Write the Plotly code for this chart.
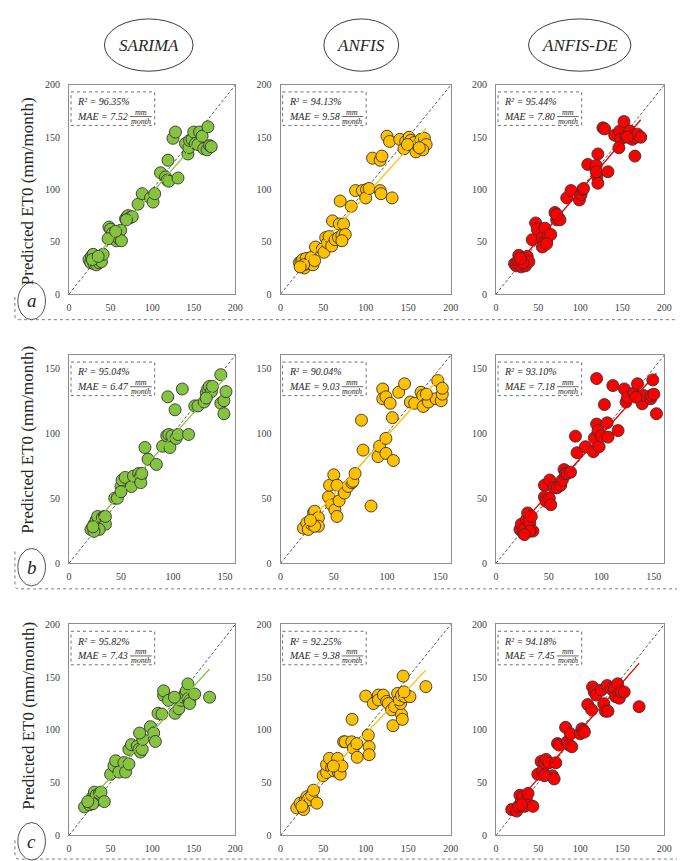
import numpy as np
import plotly.graph_objects as go

W, H = 685, 861
FONT = "Liberation Serif"

models = ["SARIMA", "ANFIS", "ANFIS-DE"]
row_labels = ["a", "b", "c"]
r2_text = [["96.35%", "94.13%", "95.44%"],
           ["95.04%", "90.04%", "93.10%"],
           ["95.82%", "92.25%", "94.18%"]]
mae_text = [["7.52", "9.58", "7.80"],
            ["6.47", "9.03", "7.18"],
            ["7.43", "9.38", "7.45"]]
axis_max = [200, 160, 200]
tick_vals = [[0, 50, 100, 150, 200], [0, 50, 100, 150], [0, 50, 100, 150, 200]]
y_title = "Predicted ET0 (mm/month)"

# ---------------- row a ----------------
a_sarima_obs = [24, 26, 27, 29, 30, 32, 33, 34, 36, 37, 39, 41, 28, 35,
                48, 50, 52, 54, 55, 57, 58, 60, 62, 63, 47, 56,
                68, 70, 71, 73, 76, 69, 83, 88, 98, 101, 103,
                110, 116, 118, 120, 119, 131, 125, 128,
                140, 143, 144, 145, 148, 150, 152, 155, 157, 160, 162, 166, 167, 169, 171]
a_sarima_pred = [33, 30, 36, 38, 29, 31, 28, 34, 30, 33, 31, 38, 33, 36,
                 64, 62, 58, 53, 55, 51, 57, 53, 61, 51, 53, 60,
                 72, 74, 75, 73, 74, 71, 86, 96, 92, 88, 96,
                 116, 112, 109, 108, 128, 111, 149, 155,
                 144, 134, 140, 147, 148, 155, 144, 143, 155, 151, 139, 138, 160, 142, 141]

a_anfis_obs = [22, 24, 25, 26, 28, 30, 32, 34, 36, 38, 40, 27, 23,
               41, 49, 51, 53, 55, 57, 60, 61, 64, 68, 69, 72, 74, 76, 72,
               70, 83, 88, 96, 101, 100, 104, 108, 117, 119, 117, 118, 131, 125, 128,
               140, 145, 147, 151, 153, 157, 159, 161, 163, 165, 169, 171, 167, 163, 149]
a_anfis_pred = [30, 31, 27, 33, 25, 34, 29, 30, 35, 28, 32, 28, 26,
                45, 43, 40, 54, 49, 55, 46, 70, 52, 54, 67, 56, 67, 57, 51,
                89, 84, 99, 99, 100, 92, 101, 130, 128, 132, 99, 96, 92, 151, 146,
                148, 139, 146, 150, 147, 145, 136, 142, 143, 148, 149, 143, 138, 140, 143]

a_de_obs = [22, 24, 26, 28, 30, 31, 33, 35, 37, 39, 27, 32, 29,
            43, 47, 49, 55, 55, 58, 60, 62, 65, 60,
            70, 72, 74, 76, 72, 84, 89, 99, 101, 103, 104,
            109, 119, 120, 121, 119, 133, 121, 127, 129,
            141, 147, 148, 152, 154, 159, 162, 164, 166, 168, 172, 165, 146, 156]
a_de_pred = [29, 27, 31, 28, 26, 33, 29, 27, 36, 31, 37, 30, 34,
             52, 68, 62, 54, 45, 63, 51, 56, 57, 48,
             78, 71, 73, 71, 76, 92, 99, 90, 95, 100, 101,
             124, 123, 113, 106, 117, 117, 134, 159, 158,
             152, 156, 148, 165, 151, 156, 148, 152, 150, 153, 150, 132, 140, 150]

# ---------------- row b ----------------
b_sarima_obs = [21, 24, 26, 27.5, 28.5, 31, 32, 34, 35, 29, 24, 23, 35,
                44, 46.5, 50, 51, 54, 50, 60, 62, 67, 69, 69, 70,
                73, 76, 84, 90, 94, 96, 97, 99, 103, 105, 115, 95, 109, 102,
                121, 124, 130, 132, 133.5, 135, 137, 138, 146, 146, 149, 149, 151, 132]
b_sarima_pred = [26, 30, 33, 36, 28, 31, 35, 36, 30, 26, 24.5, 28, 36,
                 50, 50, 59, 64, 66, 55, 59, 67, 69, 67, 62, 69,
                 89, 80, 76, 90, 98, 99, 89, 98, 96, 99, 99, 128, 134, 118,
                 121, 121, 124, 131, 134, 136, 132, 136, 145, 123, 115, 125, 132, 127]

b_anfis_obs = [21.5, 24.6, 26, 29, 31, 32, 34, 35.5, 35.5, 32, 28,
               45, 46, 48, 50, 51, 53, 53, 55, 60, 63.5, 67, 68, 70,
               85, 76, 77.5, 91.6, 93, 99, 99, 106,
               96, 96, 99, 103, 105, 111, 116.5,
               122, 126, 132, 133.6, 134, 138, 139, 146, 147.7, 151, 152, 152, 137]
b_anfis_pred = [27, 31, 26, 30, 39, 40, 34, 35, 28.5, 28.5, 33,
                51, 60, 45, 68, 41, 60, 36, 48, 54, 59, 62, 63, 69,
                44, 110, 87, 82, 90, 84.5, 96, 79,
                134, 126.5, 128, 123, 112, 131.5, 138,
                124, 123, 131.5, 129, 120.6, 128, 124, 126.5, 140.5, 125, 130, 134.6, 130]

b_de_obs = [22.7, 24, 26, 27, 29, 30, 32, 33.5, 35, 32, 27,
            46, 46, 47.5, 50.6, 51, 52, 55, 58, 61.5, 63, 64.6, 66, 67.7, 70.8,
            75.5, 77, 85, 92.5, 93.5, 95.6, 97, 98, 100, 105.6, 106.5, 116, 103,
            95.6, 111, 122, 123.6, 125,
            131, 134.5, 136, 139, 140, 147, 147.5, 149, 150, 152.5, 133]
b_de_pred = [26, 30, 23, 27, 33.6, 38.7, 31, 36, 24.7, 24.7, 22,
             60, 51, 47.6, 50, 64, 45, 58, 58, 60, 64, 72, 69, 69, 70,
             97.7, 85, 89.6, 85.8, 96.4, 107, 102, 89.6, 98, 108, 97, 102, 122,
             142, 136.6, 134, 124, 127.7,
             131, 138, 127.7, 122.6, 129, 126.5, 129, 141, 130, 115, 127.7]

# ---------------- row c ----------------
c_sarima_obs = [18.6, 24.6, 26.5, 28.5, 30.5, 32.5, 34.5, 36.4, 38.4, 42.4, 28.5, 22.6,
                50, 54, 56, 60, 66, 68, 72,
                72, 75, 82, 84, 86, 88, 88.7, 84.8, 97.8, 101.8, 103.8,
                107, 111.7, 113.7, 113.7, 119.6,
                127.5, 132, 134.7, 137.4, 139.4, 141, 143, 143, 145, 145, 151, 169, 126.7]
c_sarima_pred = [27, 29, 33.5, 36.6, 41, 38, 33.5, 39.7, 41, 32, 30, 32,
                 58, 66, 70.7, 60, 69, 60, 67.6,
                 81.5, 86, 84.6, 81.5, 79, 81.5, 91, 97, 103, 97, 89,
                 115.7, 115, 132.7, 137, 128,
                 115.7, 120, 128, 131, 134, 137, 143.6, 129.6, 128, 125, 134, 131, 131]

c_anfis_obs = [19, 23, 27, 29, 31, 33, 35, 36.7, 38.7, 42.6, 25,
               50, 54, 54, 57.4, 60, 63, 67, 68, 70, 72, 62,
               74, 75.8, 83.6, 85.5, 89.5, 90, 84, 103, 104, 104,
               100, 109, 115, 115, 120.7, 124.6, 126.6, 130.5, 132, 134, 142, 143, 141,
               137.5, 139.5, 142, 144, 146, 152, 170.7, 145]
c_anfis_pred = [26, 30.6, 24.5, 33.6, 36.7, 35, 33.6, 38, 42.8, 30.6, 27.5,
                56.6, 59.6, 67, 73, 64, 61, 73, 59.6, 58, 65.7, 65.7,
                88.7, 88.7, 88.7, 82.6, 87, 74, 110, 95, 84, 76.5,
                132, 125, 133, 128.4, 133, 127, 125, 119, 104, 122, 114.7, 110, 125,
                134.6, 128.4, 132.7, 151, 131.5, 131.5, 141, 136]

c_de_obs = [18.6, 24.4, 26.4, 28.3, 30, 32, 34, 36, 38, 43.8, 30,
            49.6, 53.5, 55.4, 57.4, 59.3, 63, 67, 69, 71, 57.4,
            73, 74.8, 82.6, 84.5, 87, 88.4, 90, 100, 102, 104, 105,
            109, 113.6, 114.7, 116.7, 119, 125, 128, 130, 133,
            132, 137, 140.7, 142, 144.6, 146.5, 148.4, 152.3, 170]
c_de_pred = [24.5, 23, 27.5, 38, 32, 36.7, 27.5, 33.6, 39.8, 27.5, 29,
             58, 70, 61, 68.8, 72, 68.8, 56.6, 53.5, 68.8, 56.6,
             87, 85.6, 102.4, 88.7, 85.6, 96.3, 84, 96.3, 101, 99.4, 97.9,
             124, 119, 140.7, 136, 133, 137.6, 124.8, 117.7, 117.7,
             142, 139, 139, 131.5, 143.7, 130, 136, 136, 122]

data = [[(a_sarima_obs, a_sarima_pred), (a_anfis_obs, a_anfis_pred), (a_de_obs, a_de_pred)],
        [(b_sarima_obs, b_sarima_pred), (b_anfis_obs, b_anfis_pred), (b_de_obs, b_de_pred)],
        [(c_sarima_obs, c_sarima_pred), (c_anfis_obs, c_anfis_pred), (c_de_obs, c_de_pred)]]

# ---------------- styling / layout (pixels) ----------------
marker_colors = ["#86c440", "#ffc000", "#ff0000"]
fit_colors = ["#86c440", "#ffc000", "#e00000"]
COL_X = [(59, 228), (274, 447), (493, 664)]
ROW_Y = [(72, 284), (346, 557), (619, 833)]
TITLE_Y = [180, 432, 712]
LABEL_Y = [291, 561, 839]
HEAD = [(95, 185), (318, 394), (526, 630)]
HEAD_Y = (5, 58)
BRACKETS = [(287, 310, 287), (545, 583, 558), (838, 857, 838)]


def px(x):
    return x / W


def py(y):
    return 1 - y / H


fig = go.Figure()
layout = dict(width=W, height=H, margin=dict(l=0, r=0, t=0, b=0),
              paper_bgcolor="white", plot_bgcolor="white", showlegend=False,
              font=dict(family=FONT, color="#404040"))
shapes, annotations = [], []

for r in range(3):
    for c in range(3):
        k = r * 3 + c + 1
        sx = "" if k == 1 else str(k)
        xref, yref = "x" + sx, "y" + sx
        L, R = COL_X[c]
        T, B = ROW_Y[r]
        ax_common = dict(range=[0, axis_max[r]], tickvals=tick_vals[r], showline=True, mirror=True,
                         linecolor="#8c8c8c", linewidth=1, ticks="", showgrid=False, zeroline=False,
                         tickfont=dict(size=10, family=FONT, color="#404040"), fixedrange=True)
        layout["xaxis" + sx] = dict(domain=[px(L), px(R)], anchor=yref, ticklabelstandoff=4, **ax_common)
        layout["yaxis" + sx] = dict(domain=[py(B), py(T)], anchor=xref, ticklabelstandoff=6, **ax_common)

        obs, pred = data[r][c]
        # 1:1 line
        shapes.append(dict(type="line", xref=xref + " domain", yref=yref + " domain",
                           x0=0, y0=0, x1=1, y1=1, layer="below",
                           line=dict(color="#333333", width=0.8, dash="3px,2px")))
        fig.add_trace(go.Scatter(x=obs, y=pred, mode="markers", xaxis=xref, yaxis=yref,
                                 marker=dict(size=12, color=marker_colors[c],
                                             line=dict(color="#333333", width=0.9)),
                                 hoverinfo="skip"))
        slope, intercept = np.polyfit(obs, pred, 1)
        xs = [min(obs), max(obs)]
        fig.add_trace(go.Scatter(x=xs, y=[slope * v + intercept for v in xs], mode="lines",
                                 xaxis=xref, yaxis=yref,
                                 line=dict(color=fit_colors[c], width=1.3), hoverinfo="skip"))

        # stats box
        shapes.append(dict(type="rect", xref="paper", yref="paper",
                           x0=px(L + 2), x1=px(L + 87), y0=py(T + 7), y1=py(T + 41),
                           line=dict(color="#707070", width=1, dash="dot"), fillcolor="white"))
        annotations.append(dict(xref="paper", yref="paper", x=px(L + 6), y=py(T + 17),
                                xanchor="left", yanchor="middle", showarrow=False,
                                text="<i>R² = %s</i>" % r2_text[r][c],
                                font=dict(size=10, family=FONT, color="#262626")))
        annotations.append(dict(xref="paper", yref="paper", x=px(L + 6), y=py(T + 31.5),
                                xanchor="left", yanchor="middle", showarrow=False,
                                text="<i>MAE = %s</i>" % mae_text[r][c],
                                font=dict(size=10, family=FONT, color="#262626")))
        annotations.append(dict(xref="paper", yref="paper", x=px(L + 73), y=py(T + 27.5),
                                xanchor="center", yanchor="middle", showarrow=False,
                                text="<i>mm</i>", font=dict(size=8, family=FONT, color="#262626")))
        annotations.append(dict(xref="paper", yref="paper", x=px(L + 73), y=py(T + 37),
                                xanchor="center", yanchor="middle", showarrow=False,
                                text="<i>month</i>", font=dict(size=8, family=FONT, color="#262626")))
        shapes.append(dict(type="line", xref="paper", yref="paper",
                           x0=px(L + 62), x1=px(L + 84), y0=py(T + 32), y1=py(T + 32),
                           line=dict(color="#262626", width=0.7)))

    # y-axis title for the row
    annotations.append(dict(xref="paper", yref="paper", x=px(17), y=py(TITLE_Y[r]),
                            xanchor="center", yanchor="middle", showarrow=False, textangle=-90,
                            text=y_title, font=dict(size=17, family=FONT, color="#262626")))
    # row label ellipse
    ly = LABEL_Y[r]
    shapes.append(dict(type="circle", xref="paper", yref="paper",
                       x0=px(7), x1=px(35), y0=py(ly + 19), y1=py(ly - 19),
                       line=dict(color="#262626", width=0.8), fillcolor="white"))
    annotations.append(dict(xref="paper", yref="paper", x=px(21), y=py(ly), xanchor="center",
                            yanchor="middle", showarrow=False, text="<i>%s</i>" % row_labels[r],
                            font=dict(size=19, family=FONT, color="#262626")))
    # dotted bracket
    top_l, yb, top_r = BRACKETS[r]
    path = ("M %.5f %.5f L %.5f %.5f Q %.5f %.5f %.5f %.5f L %.5f %.5f Q %.5f %.5f %.5f %.5f L %.5f %.5f" % (
        px(4), py(top_l), px(4), py(yb - 4), px(4), py(yb), px(8), py(yb),
        px(677), py(yb), px(681), py(yb), px(681), py(yb - 4), px(681), py(top_r)))
    shapes.append(dict(type="path", xref="paper", yref="paper", path=path, layer="below",
                       line=dict(color="#7a7a7a", width=1, dash="dot")))

# header ellipses
for c in range(3):
    x0, x1 = HEAD[c]
    shapes.append(dict(type="circle", xref="paper", yref="paper",
                       x0=px(x0), x1=px(x1), y0=py(HEAD_Y[1]), y1=py(HEAD_Y[0]),
                       line=dict(color="#262626", width=0.9)))
    annotations.append(dict(xref="paper", yref="paper", x=px((x0 + x1) / 2), y=py(sum(HEAD_Y) / 2),
                            xanchor="center", yanchor="middle", showarrow=False,
                            text="<i>%s</i>" % models[c],
                            font=dict(size=17, family=FONT, color="#262626")))

layout["shapes"] = shapes
layout["annotations"] = annotations
fig.update_layout(**layout)
fig.write_html("out.html")
